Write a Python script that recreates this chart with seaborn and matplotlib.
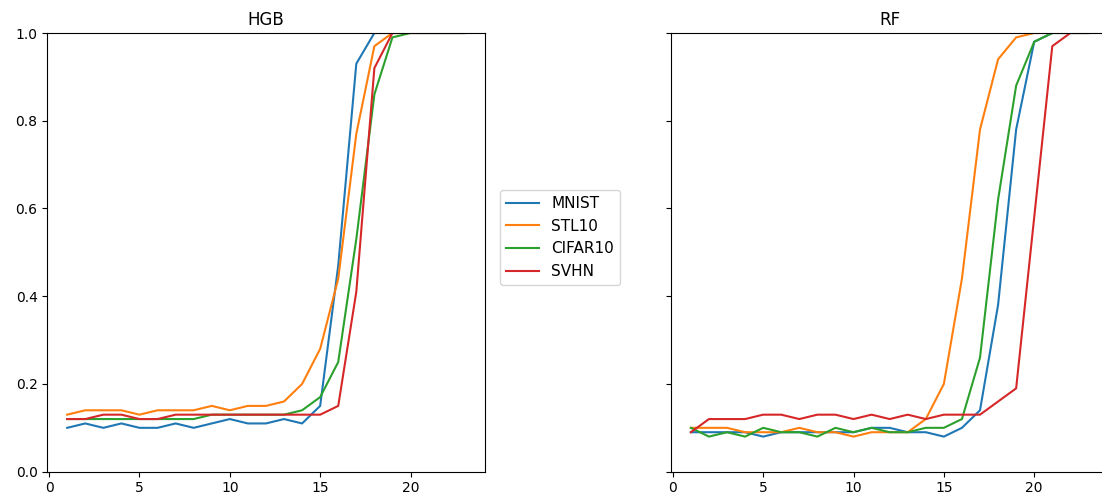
import numpy as np
import pandas as pd
import matplotlib
matplotlib.use("Agg")
import matplotlib.pyplot as plt
import seaborn as sns

steps = list(range(1, 24))
datasets = ["MNIST", "STL10", "CIFAR10", "SVHN"]

hgb_mnist = [0.10, 0.11, 0.10, 0.11, 0.10, 0.10, 0.11, 0.10, 0.11, 0.12, 0.11, 0.11,
             0.12, 0.11, 0.15, 0.47, 0.93, 1.00, 1.00, 1.00, 1.00, 1.00, 1.00]
hgb_stl10 = [0.13, 0.14, 0.14, 0.14, 0.13, 0.14, 0.14, 0.14, 0.15, 0.14, 0.15, 0.15,
             0.16, 0.20, 0.28, 0.44, 0.77, 0.97, 1.00, 1.00, 1.00, 1.00, 1.00]
hgb_cifar10 = [0.12, 0.12, 0.12, 0.12, 0.12, 0.12, 0.12, 0.12, 0.13, 0.13, 0.13, 0.13,
               0.13, 0.14, 0.17, 0.25, 0.53, 0.86, 0.99, 1.00, 1.00, 1.00, 1.00]
hgb_svhn = [0.12, 0.12, 0.13, 0.13, 0.12, 0.12, 0.13, 0.13, 0.13, 0.13, 0.13, 0.13,
            0.13, 0.13, 0.13, 0.15, 0.41, 0.92, 1.00, 1.00, 1.00, 1.00, 1.00]

rf_mnist = [0.09, 0.09, 0.09, 0.09, 0.08, 0.09, 0.09, 0.09, 0.09, 0.09, 0.10, 0.10,
            0.09, 0.09, 0.08, 0.10, 0.14, 0.38, 0.78, 0.98, 1.00, 1.00, 1.00]
rf_stl10 = [0.10, 0.10, 0.10, 0.09, 0.09, 0.09, 0.10, 0.09, 0.09, 0.08, 0.09, 0.09,
            0.09, 0.12, 0.20, 0.44, 0.78, 0.94, 0.99, 1.00, 1.00, 1.00, 1.00]
rf_cifar10 = [0.10, 0.08, 0.09, 0.08, 0.10, 0.09, 0.09, 0.08, 0.10, 0.09, 0.10, 0.09,
              0.09, 0.10, 0.10, 0.12, 0.26, 0.62, 0.88, 0.98, 1.00, 1.00, 1.00]
rf_svhn = [0.09, 0.12, 0.12, 0.12, 0.13, 0.13, 0.12, 0.13, 0.13, 0.12, 0.13, 0.12,
           0.13, 0.12, 0.13, 0.13, 0.13, 0.16, 0.19, 0.58, 0.97, 1.00, 1.00]

panels = {
    "HGB": [hgb_mnist, hgb_stl10, hgb_cifar10, hgb_svhn],
    "RF": [rf_mnist, rf_stl10, rf_cifar10, rf_svhn],
}


def long_frame(series):
    rows = []
    for name, vals in zip(datasets, series):
        for s, v in zip(steps, vals):
            rows.append({"step": s, "value": v, "dataset": name})
    return pd.DataFrame(rows)


W, H = 1102, 500
fig = plt.figure(figsize=(W / 100, H / 100), dpi=100)
left_px, top_px, bottom_px, width_px = 47.3, 33.0, 471.7, 437.3
ax0 = fig.add_axes([left_px / W, 1 - bottom_px / H, width_px / W, (bottom_px - top_px) / H])
ax1 = fig.add_axes([671.0 / W, 1 - bottom_px / H, width_px / W, (bottom_px - top_px) / H],
                   sharey=ax0)

palette = sns.color_palette("tab10", 4)
for ax, (title, series) in zip([ax0, ax1], panels.items()):
    sns.lineplot(data=long_frame(series), x="step", y="value", hue="dataset",
                 hue_order=datasets, palette=palette, ax=ax, linewidth=1.5)
    ax.set_title(title, fontsize=12)
    ax.set_xlabel("")
    ax.set_ylabel("")
    ax.set_ylim(0, 1)
    ax.set_xticks([0, 5, 10, 15, 20])
    ax.get_legend().remove()

ax1.tick_params(labelleft=False)

handles, labels = ax0.get_legend_handles_labels()
fig.legend(handles, labels, loc="center left", bbox_to_anchor=(499.5 / W, 1 - 237.5 / H),
           borderaxespad=0, fontsize=11, handlelength=2.2)

fig.savefig("out.png", dpi=100)
